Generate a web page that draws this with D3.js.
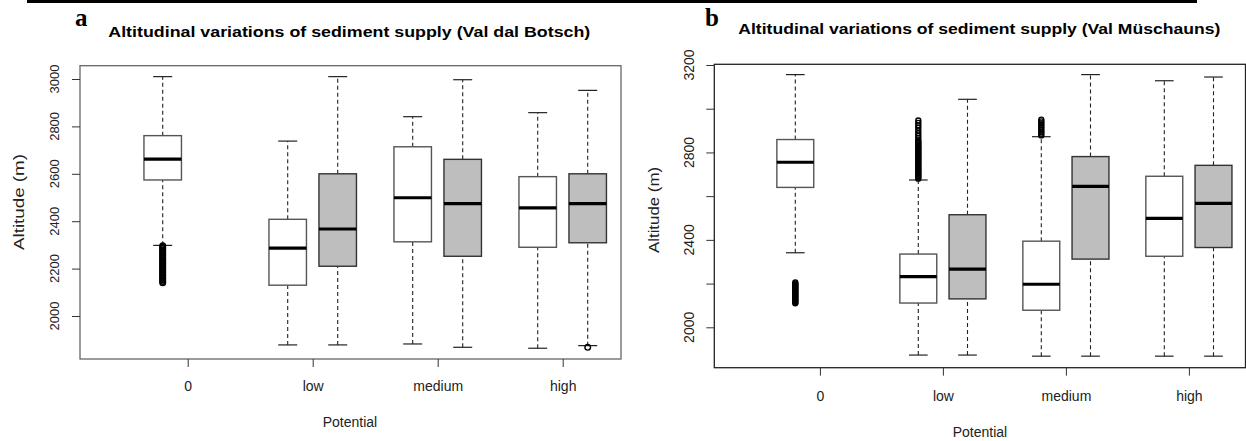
<!DOCTYPE html>
<html>
<head>
<meta charset="utf-8">
<script src="https://cdn.jsdelivr.net/npm/d3@7"></script>
<style>
  body { margin: 0; background: white; }
  svg { display: block; }
</style>
</head>
<body>
<svg class="figure"></svg>
<script>
// ----- Data -----
// Potential classes on the x axis
let potentials = ['0', 'low', 'medium', 'high']

// Val dal Botsch: [lower whisker, Q1, median, Q3, upper whisker] per potential
let botschWhite = [[2298, 2574, 2662, 2761, 3010],
                   [1878, 2130, 2286, 2408, 2738],
                   [1882, 2313, 2499, 2714, 2841],
                   [1864, 2290, 2456, 2588, 2858]]
let botschGrey = [null,
                  [1878, 2210, 2367, 2600, 3010],
                  [1868, 2252, 2474, 2661, 2997],
                  [1875, 2309, 2474, 2600, 2952]]
let botschWhiteOutliers = [[2140, 2146, 2152, 2158, 2164, 2170, 2176, 2182, 2188, 2194, 2200, 2206, 2212, 2218,
                            2224, 2230, 2236, 2242, 2248, 2254, 2260, 2266, 2272, 2278, 2284, 2290, 2296],
                           [], [], []]
let botschGreyOutliers = [[], [], [], [1868]]
let botschTicks = [2000, 2200, 2400, 2600, 2800, 3000]
let botschTickLabels = [2000, 2200, 2400, 2600, 2800, 3000]

// Val Müschauns
let mueschaunsWhite = [[2341, 2640, 2755, 2859, 3156],
                       [1873, 2111, 2232, 2335, 2674],
                       [1868, 2078, 2197, 2394, 2872],
                       [1868, 2325, 2498, 2691, 3128]]
let mueschaunsGrey = [null,
                      [1873, 2130, 2266, 2515, 3043],
                      [1868, 2312, 2645, 2781, 3156],
                      [1868, 2365, 2567, 2741, 3145]]
let mueschaunsWhiteOutliers = [[2110, 2115, 2120, 2125, 2130, 2135, 2140, 2145, 2150, 2155, 2160, 2165, 2170,
                                2175, 2180, 2185, 2190, 2195, 2200, 2205],
                               [2680, 2686, 2692, 2698, 2704, 2710, 2716, 2722, 2728, 2734, 2740, 2746, 2752,
                                2758, 2764, 2770, 2776, 2782, 2788, 2794, 2800, 2806, 2812, 2818, 2824, 2830,
                                2836, 2842, 2848, 2855, 2866, 2876, 2888, 2900, 2913, 2924, 2935, 2946],
                               [2878, 2886, 2894, 2902, 2910, 2918, 2926, 2934, 2942, 2950],
                               []]
let mueschaunsGreyOutliers = [[], [], [], []]
let mueschaunsTicks = [2000, 2200, 2400, 2600, 2800, 3000, 3200]
let mueschaunsTickLabels = [2000, 2400, 2800, 3200]

// ----- SVG -----
let svgWidth = 1246
let svgHeight = 441
let svg = d3.select('.figure')
            .attr('width', svgWidth)
            .attr('height', svgHeight)

let fontFamily = '"Liberation Sans", Arial, sans-serif'

// black rule at the top of the page
svg.append('rect')
   .attr('x', 27)
   .attr('y', 0)
   .attr('width', 1170)
   .attr('height', 3)
   .attr('fill', 'black')

function drawPanel(p) {
    let g = svg.append('g')

    let x = d3.scaleLinear().domain([0, 10]).range(p.xRange)
    let y = d3.scaleLinear().domain(p.yDomain).range(p.yRange)
    let unit = x(1) - x(0)
    let boxW = 0.75 * unit
    let capW = 0.38 * unit

    // slot of each box: white at 1 + 2.5*i, grey one unit to the right
    let boxes = []
    p.white.forEach(function (s, i) {
        if (s) boxes.push({pos: 1 + 2.5*i, s: s, fill: 'white', stroke: p.whiteStroke, out: p.whiteOut[i]})
    })
    p.grey.forEach(function (s, i) {
        if (s) boxes.push({pos: 2 + 2.5*i, s: s, fill: '#bebebe', stroke: p.greyStroke, out: p.greyOut[i]})
    })

    let b = g.selectAll('g.box')
             .data(boxes)
             .enter()
             .append('g')
             .attr('class', 'box')

    // dashed whiskers
    b.append('line')
     .attr('x1', d => x(d.pos)).attr('x2', d => x(d.pos))
     .attr('y1', d => y(d.s[0])).attr('y2', d => y(d.s[1]))
     .attr('stroke', '#222').attr('stroke-width', 1.1)
     .attr('stroke-dasharray', '4,3')
    b.append('line')
     .attr('x1', d => x(d.pos)).attr('x2', d => x(d.pos))
     .attr('y1', d => y(d.s[3])).attr('y2', d => y(d.s[4]))
     .attr('stroke', '#222').attr('stroke-width', 1.1)
     .attr('stroke-dasharray', '4,3')

    // caps
    b.selectAll('line.cap')
     .data(d => [[d.pos, d.s[0]], [d.pos, d.s[4]]])
     .enter()
     .append('line')
     .attr('class', 'cap')
     .attr('x1', d => x(d[0]) - capW/2).attr('x2', d => x(d[0]) + capW/2)
     .attr('y1', d => y(d[1])).attr('y2', d => y(d[1]))
     .attr('stroke', '#222').attr('stroke-width', 1.2)

    // boxes
    b.append('rect')
     .attr('x', d => x(d.pos) - boxW/2)
     .attr('width', boxW)
     .attr('y', d => y(d.s[3]))
     .attr('height', d => y(d.s[1]) - y(d.s[3]))
     .attr('fill', d => d.fill)
     .attr('stroke', d => d.stroke)
     .attr('stroke-width', 1.4)

    // medians
    b.append('line')
     .attr('x1', d => x(d.pos) - boxW/2).attr('x2', d => x(d.pos) + boxW/2)
     .attr('y1', d => y(d.s[2])).attr('y2', d => y(d.s[2]))
     .attr('stroke', 'black').attr('stroke-width', 3.2)

    // outliers (open circles)
    b.selectAll('circle')
     .data(d => d.out.map(v => [d.pos, v]))
     .enter()
     .append('circle')
     .attr('cx', d => x(d[0]))
     .attr('cy', d => y(d[1]))
     .attr('r', p.outR)
     .attr('fill', 'none')
     .attr('stroke', 'black')
     .attr('stroke-width', 1.4)

    // frame
    g.append('rect')
     .attr('x', p.frame[0]).attr('y', p.frame[1])
     .attr('width', p.frame[2] - p.frame[0])
     .attr('height', p.frame[3] - p.frame[1])
     .attr('fill', 'none')
     .attr('stroke', p.frameColor)
     .attr('stroke-width', 1.3)

    // y axis
    let yAxis = g.append('g')
                 .attr('transform', 'translate(' + p.frame[0] + ',0)')
                 .call(d3.axisLeft(y).tickValues(p.yTicks).tickSize(8).tickFormat(''))
    yAxis.select('.domain').remove()
    yAxis.selectAll('line').attr('stroke', '#333')

    g.selectAll('text.ylab')
     .data(p.yLabels)
     .enter()
     .append('text')
     .attr('class', 'ylab')
     .attr('transform', d => 'translate(' + p.yLabelX + ',' + y(d) + ') rotate(-90)')
     .attr('text-anchor', 'middle')
     .attr('font-family', fontFamily)
     .attr('font-size', p.yFont)
     .attr('fill', '#222')
     .text(d => d)

    g.append('text')
     .attr('transform', 'translate(' + p.yTitle[0] + ',' + p.yTitle[1] + ') rotate(-90)')
     .attr('text-anchor', 'middle')
     .attr('font-family', fontFamily)
     .attr('font-size', 14)
     .attr('textLength', p.yTitleLen)
     .attr('lengthAdjust', 'spacingAndGlyphs')
     .attr('fill', '#222')
     .text('Altitude (m)')

    // x axis
    let xAxis = g.append('g')
                 .attr('transform', 'translate(0,' + p.frame[3] + ')')
                 .call(d3.axisBottom(x)
                         .tickValues(potentials.map((c, i) => 1.5 + 2.5*i))
                         .tickFormat((d, i) => potentials[i])
                         .tickSize(8)
                         .tickPadding(p.xPad))
    xAxis.select('.domain').remove()
    xAxis.selectAll('line').attr('stroke', '#333')
    xAxis.selectAll('text')
         .attr('font-family', fontFamily)
         .attr('font-size', 14)
         .attr('fill', '#222')

    g.append('text')
     .attr('x', p.xTitle[0]).attr('y', p.xTitle[1])
     .attr('text-anchor', 'middle')
     .attr('font-family', fontFamily)
     .attr('font-size', 14)
     .attr('fill', '#222')
     .text('Potential')

    // panel letter and title
    g.append('text')
     .attr('x', p.letter[0]).attr('y', p.letter[1])
     .attr('font-family', '"Liberation Serif", "Times New Roman", serif')
     .attr('font-weight', 'bold')
     .attr('font-size', 25)
     .attr('fill', 'black')
     .text(p.letterText)

    g.append('text')
     .attr('x', p.title[0]).attr('y', p.title[1])
     .attr('font-family', fontFamily)
     .attr('font-weight', 'bold')
     .attr('font-size', 15.5)
     .attr('textLength', 482)
     .attr('lengthAdjust', 'spacingAndGlyphs')
     .attr('fill', 'black')
     .text(p.titleText)
}

drawPanel({
    white: botschWhite, grey: botschGrey,
    whiteOut: botschWhiteOutliers, greyOut: botschGreyOutliers,
    yTicks: botschTicks, yLabels: botschTickLabels,
    xRange: [112.7, 612.7], yDomain: [2000, 3000], yRange: [316, 79],
    frame: [80, 65.7, 621, 359], frameColor: '#666',
    whiteStroke: '#555', greyStroke: '#333', outR: 2.8,
    yLabelX: 59, yFont: 13, yTitle: [24, 202], yTitleLen: 96,
    xPad: 14.5, xTitle: [350, 426.5],
    letter: [75, 26], letterText: 'a',
    title: [108.3, 36.7], titleText: 'Altitudinal variations of sediment supply (Val dal Botsch)'
})

drawPanel({
    white: mueschaunsWhite, grey: mueschaunsGrey,
    whiteOut: mueschaunsWhiteOutliers, greyOut: mueschaunsGreyOutliers,
    yTicks: mueschaunsTicks, yLabels: mueschaunsTickLabels,
    xRange: [746.1, 1238.1], yDomain: [2000, 3200], yRange: [327.3, 65],
    frame: [714.3, 64.3, 1245.5, 367.7], frameColor: '#222',
    whiteStroke: '#555', greyStroke: '#333', outR: 2.5,
    yLabelX: 694, yFont: 14, yTitle: [659, 210], yTitleLen: 86,
    xPad: 15, xTitle: [980, 436.5],
    letter: [705, 26], letterText: 'b',
    title: [738.3, 34.3], titleText: 'Altitudinal variations of sediment supply (Val Müschauns)'
})
</script>
</body>
</html>
